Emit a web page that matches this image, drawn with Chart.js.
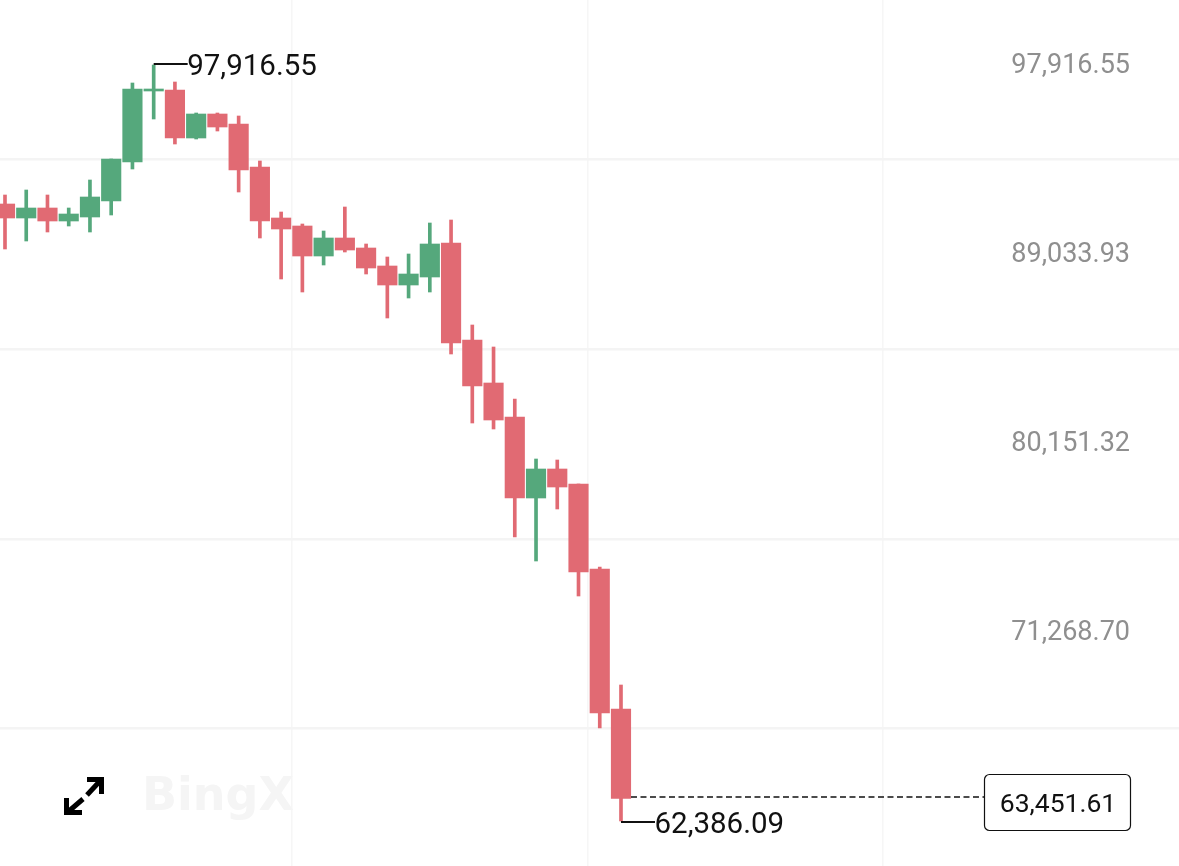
<!DOCTYPE html>
<html>
<head>
<meta charset="utf-8">
<title>BTC candles</title>
<script src="https://cdn.jsdelivr.net/npm/chart.js@4"></script>
<style>
    html, body { margin: 0; padding: 0; background: #fff; overflow: hidden; }
    #wrap { position: relative; width: 1179px; height: 866px; }
    #expand { position: absolute; left: 60px; top: 772px; }
    #logo { position: absolute; left: 142px; top: 767px; font: 700 46px "DejaVu Sans", sans-serif; color: #f5f5f5; }
    canvas { display: block; }
</style>
</head>
<body>
<div id="wrap">
    <canvas id="chart" width="1179" height="866"></canvas>
    <div id="logo">BingX</div>
    <svg id="expand" width="48" height="48" viewBox="0 0 48 48">
        <path d="M27 7.5H41.5V22 M6.5 26V40.5H22" stroke="#000" stroke-width="5" fill="none"/>
        <path d="M40 9L27 23 M23 27L9 39" stroke="#000" stroke-width="5" fill="none"/>
    </svg>
</div>
<script>
const opens = [91384, 90726, 91196, 90585, 90773, 91525, 93358, 96695, 96742, 94486,
    95614, 95144, 93123, 90726, 90350, 88940, 89786, 89316, 88470, 87577,
    87953, 89551, 84992, 82971, 81373, 77566, 78929, 78224, 74229, 67649];
const closes = [90726, 91196, 90585, 90914, 91713, 93499, 96789, 96742, 94486, 95614,
    95003, 92982, 90585, 90209, 88940, 89786, 89222, 88376, 87577, 88094,
    89504, 84851, 82830, 81232, 77566, 78929, 78083, 74088, 67461, 63451.61];
const highs = [91807, 92042, 91807, 91196, 92512, 93499, 97071, 97916.55, 97118, 95661,
    95661, 95520, 93405, 91008, 90444, 90115, 91243, 89504, 88893, 89034,
    90491, 90632, 85697, 84663, 82219, 79399, 79352, 78224, 74323, 68777];
const lows = [89269, 89645, 90068, 90350, 90068, 90867, 93029, 95379, 94204, 94439,
    94815, 91948, 89786, 87859, 87248, 88517, 89128, 88094, 86026, 86966,
    87248, 84334, 81091, 80809, 75733, 74605, 77049, 72960, 66756, 62386.09];

const priceTicks = [97916.55, 89033.93, 80151.32, 71268.70];
const gridLevels = [93499, 84569, 75639, 66756];
const gridTimes = [13.51, 27.45, 41.33];

const highValue = 97916.55;
const lowValue = 62386.09;
const lastValue = 63451.61;

const UP = "#55a87c";
const DOWN = "#e16a73";

function fmt(v) {
    return v.toLocaleString("en-US", { minimumFractionDigits: 2, maximumFractionDigits: 2 });
}

const candleColors = opens.map((o, i) => closes[i] >= o ? UP : DOWN);
const wickData = lows.map((l, i) => ({ x: i, y: [l, highs[i]] }));
const bodyData = opens.map((o, i) => ({ x: i, y: [o, closes[i]] }));

// axes must not take any room, the plot fills the whole canvas
function noAxisRoom(axis) {
    axis.paddingTop = axis.paddingBottom = axis.paddingLeft = axis.paddingRight = 0;
    if (axis.isHorizontal()) {
        axis.height = 0;
    } else {
        axis.width = 0;
    }
}

const markers = {
    id: "markers",
    afterDatasetsDraw(chart) {
        const { ctx, scales: { x, y } } = chart;
        const iHigh = highs.indexOf(highValue);
        const iLow = lows.indexOf(lowValue);
        const iLast = closes.indexOf(lastValue);

        ctx.save();
        ctx.font = "400 29.5px Roboto";
        ctx.fillStyle = "#111";
        ctx.textBaseline = "middle";
        ctx.strokeStyle = "#111";
        ctx.lineWidth = 1.8;

        // high / low labels
        const hx = x.getPixelForValue(iHigh), hy = y.getPixelForValue(highValue);
        ctx.beginPath(); ctx.moveTo(hx, hy - 1); ctx.lineTo(hx + 34, hy - 1); ctx.stroke();
        ctx.fillText(fmt(highValue), hx + 33.5, hy + 3);

        const lx = x.getPixelForValue(iLow), ly = y.getPixelForValue(lowValue);
        ctx.beginPath(); ctx.moveTo(lx, ly + 1); ctx.lineTo(lx + 34, ly + 1); ctx.stroke();
        ctx.fillText(fmt(lowValue), lx + 33.5, ly + 5);

        // last price line and box
        const py = y.getPixelForValue(lastValue) - 1.3;
        const boxL = 984.5, boxR = 1130.5, boxT = 774.5, boxB = 830.5;
        ctx.lineWidth = 1.3;
        ctx.setLineDash([6, 3.5]);
        ctx.beginPath(); ctx.moveTo(x.getPixelForValue(iLast) + 10, py); ctx.lineTo(boxL, py); ctx.stroke();
        ctx.setLineDash([]);
        ctx.lineWidth = 1.2;
        ctx.fillStyle = "#fff";
        ctx.beginPath(); ctx.roundRect(boxL, boxT, boxR - boxL, boxB - boxT, 5); ctx.fill(); ctx.stroke();
        ctx.fillStyle = "#111";
        ctx.font = "400 26.5px Roboto";
        ctx.textAlign = "center";
        ctx.fillText(fmt(lastValue), (boxL + boxR) / 2 + 0.5, (boxT + boxB) / 2 + 3);
        ctx.restore();
    }
};

new Chart(document.getElementById("chart"), {
    type: "bar",
    data: {
        datasets: [
            { data: wickData, backgroundColor: candleColors, barThickness: 3, grouped: false, order: 2 },
            { data: bodyData, backgroundColor: candleColors, barThickness: 19.5, grouped: false, order: 1, minBarLength: 2 }
        ]
    },
    options: {
        responsive: false,
        animation: false,
        devicePixelRatio: 1,
        layout: { padding: 0 },
        plugins: { legend: { display: false }, tooltip: { enabled: false } },
        scales: {
            x: {
                type: "linear",
                offset: false,
                min: -0.235,
                max: 55.27,
                afterBuildTicks: axis => { axis.ticks = gridTimes.map(v => ({ value: v })); },
                afterFit: noAxisRoom,
                ticks: { display: false },
                border: { display: false },
                grid: { color: "#f6f6f6", lineWidth: 1.5, drawTicks: false, offset: false }
            },
            y: {
                min: 60270,
                max: 100972,
                afterBuildTicks: axis => { axis.ticks = gridLevels.map(v => ({ value: v })); },
                afterFit: noAxisRoom,
                ticks: { display: false },
                border: { display: false },
                grid: { color: "#f4f4f4", lineWidth: 2.5, drawTicks: false }
            },
            yLabels: {
                position: "right",
                min: 60270,
                max: 100972,
                afterBuildTicks: axis => { axis.ticks = priceTicks.map(v => ({ value: v })); },
                afterFit: noAxisRoom,
                border: { display: false },
                grid: { display: false, drawTicks: false },
                ticks: {
                    mirror: true,
                    padding: -49,
                    labelOffset: 1,
                    color: "#8f8f8f",
                    font: { family: "Roboto", size: 27 },
                    callback: v => fmt(v)
                }
            }
        }
    },
    plugins: [markers]
});
</script>
</body>
</html>
